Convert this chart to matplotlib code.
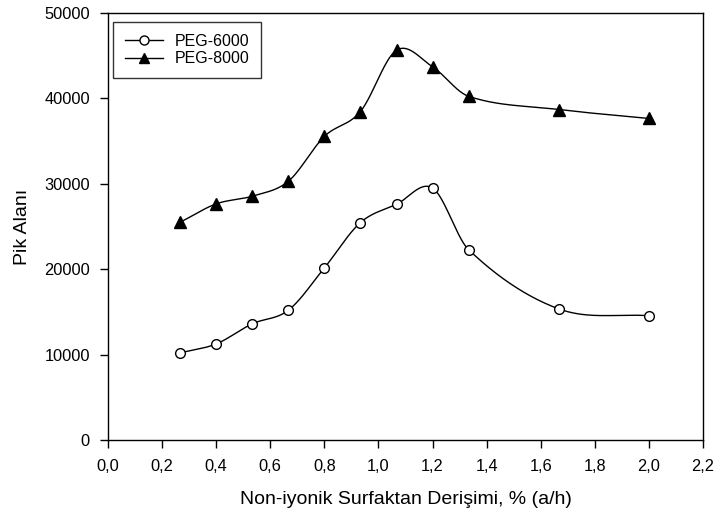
import numpy as np
import matplotlib
matplotlib.use("Agg")
from matplotlib import pyplot as plt

plt.rcParams['font.family'] = ['Liberation Sans', 'DejaVu Sans']

# surfactant concentration, % (w/v)
conc = [0.267, 0.4, 0.533, 0.667, 0.8, 0.933, 1.067, 1.2, 1.333, 1.667, 2.0]
peg6000 = [10200, 11250, 13600, 15200, 20150, 25450, 27600, 29500, 22300, 15350, 14550]
peg8000 = [25500, 27650, 28550, 30300, 35550, 38450, 45650, 43700, 40250, 38700, 37650]

x_ticks = [0.0, 0.2, 0.4, 0.6, 0.8, 1.0, 1.2, 1.4, 1.6, 1.8, 2.0, 2.2]
y_ticks = [0, 10000, 20000, 30000, 40000, 50000]


def smooth_curve(x, y, n=40):
    """Catmull-Rom style curve through the points (like SigmaPlot's spline line)."""
    x = np.asarray(x, float)
    y = np.asarray(y, float)
    m = np.empty_like(y)
    m[1:-1] = (y[2:] - y[:-2]) / (x[2:] - x[:-2])
    m[0] = (y[1] - y[0]) / (x[1] - x[0])
    m[-1] = (y[-1] - y[-2]) / (x[-1] - x[-2])
    xs_all, ys_all = [], []
    for i in range(len(x) - 1):
        h = x[i + 1] - x[i]
        t = np.linspace(0, 1, n)
        h00 = 2 * t**3 - 3 * t**2 + 1
        h10 = t**3 - 2 * t**2 + t
        h01 = -2 * t**3 + 3 * t**2
        h11 = t**3 - t**2
        xs_all.append(x[i] + t * h)
        ys_all.append(h00 * y[i] + h10 * h * m[i] + h01 * y[i + 1] + h11 * h * m[i + 1])
    return np.concatenate(xs_all), np.concatenate(ys_all)


fig = plt.figure(figsize=(7.15, 5.18), dpi=100)
ax = fig.add_axes([108 / 715, 1 - 440 / 518, 595 / 715, 427 / 518])

styles = [(peg6000, 'o', 'white', 'PEG-6000', 7),
          (peg8000, '^', 'black', 'PEG-8000', 8)]
for vals, marker, face, label, size in styles:
    xs, ys = smooth_curve(conc, vals)
    ax.plot(xs, ys, color='black', lw=1.0)
    ax.plot(conc, vals, linestyle='none', marker=marker, ms=size,
            mfc=face, mec='black', mew=1.0)
    ax.plot([], [], color='black', lw=1.0, marker=marker, ms=size - 0.5,
            mfc=face, mec='black', mew=1.0, label=label)

ax.set_xlim(0, 2.2)
ax.set_ylim(0, 50000)
ax.set_xticks(x_ticks)
ax.set_xticklabels([f"{t:.1f}".replace('.', ',') for t in x_ticks])
ax.set_yticks(y_ticks)
ax.tick_params(direction='out', length=6, width=1, labelsize=11.8)
ax.tick_params(axis='x', pad=8)
ax.tick_params(axis='y', pad=7)
for s in ax.spines.values():
    s.set_linewidth(1.0)

ax.set_xlabel("Non-iyonik Surfaktan Derişimi, % (a/h)", fontsize=14)
ax.set_ylabel("Pik Alanı", fontsize=14)
ax.xaxis.set_label_coords(0.5, (440 - 500) / 427)
ax.xaxis.label.set_va('center')
ax.yaxis.set_label_coords((23 - 108) / 595, 0.5)
ax.yaxis.label.set_va('center')

leg = ax.legend(loc='upper left', bbox_to_anchor=((113 - 108) / 595, (440 - 22) / 427),
                borderaxespad=0, fontsize=11.5, frameon=True, fancybox=False,
                edgecolor='black', handlelength=2.4, handletextpad=0.7,
                borderpad=0.75, labelspacing=0.15)
leg.get_frame().set_linewidth(1.0)

fig.savefig("out.png", dpi=100)
